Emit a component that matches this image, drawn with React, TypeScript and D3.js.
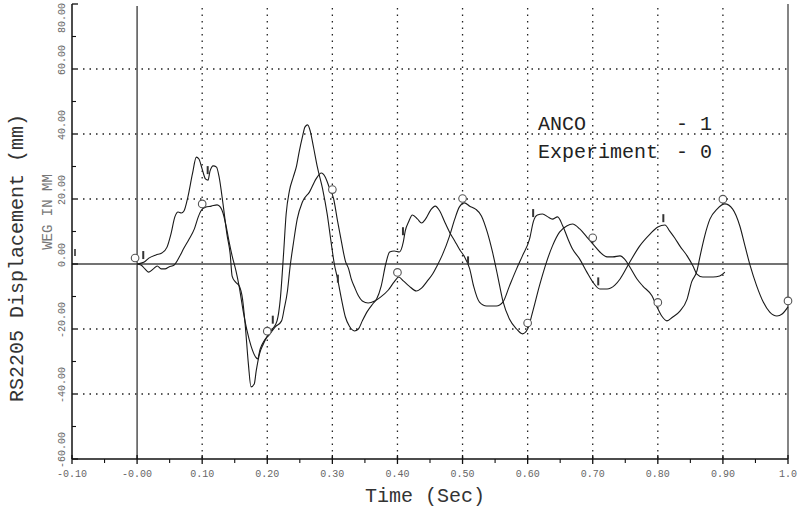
import React from 'react';
import * as d3 from 'd3';

// time (s), displacement (mm)
const ancoT = [0, 0.011, 0.018, 0.029, 0.038, 0.046, 0.052, 0.058, 0.063, 0.068, 0.072, 0.078, 0.085, 0.091, 0.095, 0.1, 0.105, 0.109, 0.112, 0.117, 0.122, 0.126, 0.132, 0.138, 0.143, 0.146, 0.151, 0.157, 0.162, 0.166, 0.171, 0.175, 0.18, 0.183, 0.188, 0.194, 0.2, 0.208, 0.215, 0.22, 0.225, 0.229, 0.234, 0.24, 0.245, 0.249, 0.254, 0.258, 0.262, 0.266, 0.271, 0.277, 0.285, 0.292, 0.298, 0.303, 0.308, 0.314, 0.32, 0.326, 0.334, 0.34, 0.346, 0.354, 0.362, 0.368, 0.375, 0.382, 0.388, 0.395, 0.403, 0.409, 0.412, 0.417, 0.423, 0.431, 0.437, 0.443, 0.451, 0.458, 0.465, 0.472, 0.48, 0.488, 0.495, 0.503, 0.511, 0.517, 0.526, 0.537, 0.552, 0.562, 0.572, 0.583, 0.592, 0.603, 0.609, 0.615, 0.623, 0.631, 0.638, 0.646, 0.654, 0.662, 0.669, 0.68, 0.691, 0.7, 0.711, 0.722, 0.734, 0.742, 0.757, 0.772, 0.788, 0.8, 0.811, 0.818, 0.826, 0.834, 0.845, 0.854, 0.86, 0.869, 0.885, 0.895, 0.903];
const ancoV = [0, 0.6, 1.8, 2.8, 3.4, 5.2, 9.2, 14.5, 16.0, 15.7, 16.3, 20.6, 27.7, 32.9, 32.3, 29.2, 26.2, 25.8, 28.6, 30.2, 29.8, 26.8, 18.5, 9.2, 3.1, -3.7, -5.5, -6.8, -10.8, -18.5, -30.8, -37.8, -36.9, -32.9, -27.7, -24.6, -22.2, -20.0, -17.5, -10.8, 3.1, 15.4, 22.5, 26.8, 30.2, 34.5, 39.1, 42.2, 42.8, 40.9, 36.0, 29.8, 23.1, 15.4, 6.8, 0.0, -4.6, -10.8, -16.3, -19.1, -20.6, -20.0, -17.5, -14.5, -12.3, -10.8, -6.8, 0.0, 3.7, 4.0, 3.7, 6.8, 10.2, 12.9, 15.1, 13.8, 12.6, 13.8, 16.6, 17.8, 16.3, 13.2, 9.8, 7.1, 4.6, 2.2, -1.5, -6.8, -11.7, -12.9, -12.9, -11.7, -6.8, -1.5, 2.5, 7.7, 13.2, 15.1, 15.4, 14.5, 13.8, 14.5, 11.7, 7.7, 4.6, 1.5, -2.5, -5.5, -7.7, -7.7, -6.5, -4.6, 0.6, 5.5, 9.2, 11.4, 12.0, 10.2, 8.0, 5.5, 2.5, -0.6, -3.1, -4.0, -4.0, -3.7, -2.5];

const expT = [0, 0.006, 0.012, 0.018, 0.025, 0.031, 0.037, 0.043, 0.049, 0.057, 0.065, 0.072, 0.08, 0.088, 0.094, 0.098, 0.105, 0.114, 0.123, 0.128, 0.132, 0.137, 0.142, 0.146, 0.152, 0.157, 0.163, 0.169, 0.175, 0.182, 0.185, 0.189, 0.195, 0.203, 0.212, 0.222, 0.226, 0.231, 0.235, 0.24, 0.246, 0.254, 0.265, 0.275, 0.283, 0.289, 0.295, 0.302, 0.308, 0.314, 0.32, 0.325, 0.329, 0.334, 0.34, 0.346, 0.355, 0.365, 0.374, 0.386, 0.395, 0.402, 0.409, 0.418, 0.429, 0.437, 0.446, 0.454, 0.46, 0.469, 0.48, 0.488, 0.495, 0.503, 0.511, 0.52, 0.529, 0.538, 0.546, 0.554, 0.562, 0.572, 0.583, 0.592, 0.6, 0.608, 0.618, 0.629, 0.638, 0.649, 0.66, 0.669, 0.68, 0.691, 0.7, 0.711, 0.722, 0.731, 0.742, 0.749, 0.757, 0.768, 0.777, 0.791, 0.798, 0.806, 0.814, 0.823, 0.834, 0.845, 0.852, 0.86, 0.865, 0.872, 0.88, 0.891, 0.903, 0.915, 0.926, 0.934, 0.942, 0.952, 0.962, 0.972, 0.983, 0.991, 1.0];
const expV = [0, -0.3, -1.5, -2.5, -1.5, -0.6, -1.5, -1.5, -0.9, -0.3, 2.2, 4.9, 7.7, 10.8, 14.5, 16.3, 17.5, 17.8, 18.2, 17.5, 15.7, 11.4, 6.2, 2.5, -2.2, -7.1, -14.5, -20.6, -25.2, -28.6, -29.2, -26.2, -23.7, -21.8, -19.4, -17.5, -13.8, -8.3, -0.9, 6.2, 13.8, 19.1, 22.2, 26.2, 28.0, 26.8, 23.7, 20.0, 13.2, 6.8, 0.9, -1.5, -4.6, -7.1, -9.8, -11.4, -12.0, -11.4, -10.2, -8.0, -5.5, -4.0, -5.2, -6.8, -8.3, -7.4, -5.2, -3.1, -0.9, 2.8, 8.6, 13.8, 17.5, 18.8, 17.8, 16.9, 14.8, 9.8, 3.7, -3.7, -11.4, -16.9, -20.0, -21.5, -20.0, -14.5, -6.8, 0.6, 5.5, 9.8, 11.7, 12.3, 10.8, 8.3, 6.2, 3.7, 2.2, 2.2, 2.5, 1.5, -0.9, -4.6, -6.8, -9.8, -12.9, -16.0, -17.5, -16.3, -14.5, -10.8, -5.5, -2.2, 2.5, 8.6, 13.8, 16.9, 18.5, 16.9, 11.7, 5.5, -0.6, -6.8, -11.7, -14.8, -16.0, -15.4, -13.2];

const ancoMarkT = [0.011, 0.11, 0.21, 0.31, 0.41, 0.51, 0.61, 0.71, 0.81];
const expMarkT = [0, 0.1, 0.2, 0.3, 0.4, 0.5, 0.6, 0.7, 0.8, 0.9, 1.0];

const xMajor = [-0.1, 0, 0.1, 0.2, 0.3, 0.4, 0.5, 0.6, 0.7, 0.8, 0.9, 1.0];
const xLabels = ['-0.10', '-0.00', '0.10', '0.20', '0.30', '0.40', '0.50', '0.60', '0.70', '0.80', '0.90', '1.0'];
const yMajor = [-60, -40, -20, 0, 20, 40, 60, 80];
const yLabels = ['-60.00', '-40.00', '-20.00', '0.00', '20.00', '40.00', '60.00', '80.00'];

const W = 801, H = 518;
const mono = '"Liberation Mono", "DejaVu Sans Mono", monospace';

const x = d3.scaleLinear().domain([-0.1, 1.0]).range([72, 788]);
const y = d3.scaleLinear().domain([-60, 80]).range([459, 4]);

const valueAt = (ts: number[], vs: number[], t: number) => {
  const i = Math.max(1, Math.min(ts.length - 1, d3.bisectLeft(ts, t)));
  const t0 = ts[i - 1], t1 = ts[i];
  const k = t1 === t0 ? 0 : (t - t0) / (t1 - t0);
  return vs[i - 1] + (vs[i] - vs[i - 1]) * Math.max(0, Math.min(1, k));
};

export default function App() {
  const line = d3.line<[number, number]>()
    .x(d => x(d[0]))
    .y(d => y(d[1]))
    .curve(d3.curveMonotoneX);

  const anco = ancoT.map((t, i) => [t, ancoV[i]] as [number, number]);
  const exp = expT.map((t, i) => [t, expV[i]] as [number, number]);

  const xMinor = d3.range(-0.05, 1.0, 0.1);
  const yMinor = d3.range(-50, 80, 20);

  return (
    <svg width={W} height={H} style={{ position: 'absolute', left: 0, top: 0, background: '#fff' }}>
      <rect width={W} height={H} fill="#fff" />

      {/* dotted grid */}
      {yMajor.filter(v => v !== 0 && v !== -60 && v !== 80).map(v => (
        <line key={'gy' + v} x1={83} x2={788} y1={y(v)} y2={y(v)}
          stroke="#222" strokeWidth={1.3} strokeDasharray="1.5,5" />
      ))}
      {xMajor.filter(t => t > 0.05 && t < 0.95).map(t => (
        <line key={'gx' + t} x1={x(t)} x2={x(t)} y1={8} y2={459}
          stroke="#222" strokeWidth={1.3} strokeDasharray="1.5,5" />
      ))}

      {/* solid zero lines */}
      <line x1={72} x2={788} y1={y(0)} y2={y(0)} stroke="#444" strokeWidth={1.6} />
      <line x1={x(0)} x2={x(0)} y1={6} y2={459} stroke="#444" strokeWidth={1.4} />

      {/* axes frame */}
      <line x1={72} x2={72} y1={4} y2={459} stroke="#111" strokeWidth={1.5} />
      <line x1={72} x2={788} y1={459} y2={459} stroke="#111" strokeWidth={1.5} />
      <line x1={788} x2={788} y1={4} y2={459} stroke="#333" strokeWidth={1.2} />

      {/* y ticks */}
      {yMajor.map(v => (
        <line key={'ty' + v} x1={72} x2={78} y1={y(v)} y2={y(v)} stroke="#111" strokeWidth={1.3} />
      ))}
      {yMinor.map(v => (
        <line key={'tym' + v} x1={72} x2={76} y1={y(v)} y2={y(v)} stroke="#111" strokeWidth={1.1} />
      ))}
      {/* x ticks */}
      {xMajor.map(t => (
        <line key={'tx' + t} x1={x(t)} x2={x(t)} y1={455} y2={464} stroke="#111" strokeWidth={1.3} />
      ))}
      {xMinor.map(t => (
        <line key={'txm' + t} x1={x(t)} x2={x(t)} y1={459} y2={463} stroke="#111" strokeWidth={1.1} />
      ))}

      {/* tick labels */}
      {xMajor.map((t, i) => (
        <text key={'lx' + t} x={x(t)} y={477} textAnchor="middle" fontFamily={mono}
          fontSize={10} fill="#666">{xLabels[i]}</text>
      ))}
      {yMajor.map((v, i) => {
        const cy = Math.max(18, y(v) - 9);
        return (
          <text key={'ly' + v} x={62} y={cy} transform={`rotate(-90, 62, ${cy})`}
            textAnchor="middle" dominantBaseline="middle" fontFamily={mono}
            fontSize={10} fill="#666">{yLabels[i]}</text>
        );
      })}

      {/* curves */}
      <path d={line(anco) ?? ''} fill="none" stroke="#1a1a1a" strokeWidth={1.1} />
      <path d={line(exp) ?? ''} fill="none" stroke="#1a1a1a" strokeWidth={1.1} />

      {/* markers */}
      {expMarkT.map(t => (
        <circle key={'me' + t} cx={x(t) - (t === 0 ? 2 : 0)} cy={y(valueAt(expT, expV, t)) - 6} r={3.8}
          fill="#fff" stroke="#555" strokeWidth={1.1} />
      ))}
      {ancoMarkT.map(t => {
        const cx = x(t) - 1;
        const cy = y(valueAt(ancoT, ancoV, t)) - 7;
        return <line key={'ma' + t} x1={cx} x2={cx} y1={cy - 4} y2={cy + 4} stroke="#333" strokeWidth={2} />;
      })}
      <line x1={75} x2={75} y1={249} y2={256} stroke="#333" strokeWidth={1.6} />

      {/* legend */}
      <text x={538} y={130} fontFamily={mono} fontSize={20} fill="#222">ANCO</text>
      <text x={676} y={130} fontFamily={mono} fontSize={20} fill="#222">- 1</text>
      <text x={538} y={158} fontFamily={mono} fontSize={20} fill="#222">Experiment</text>
      <text x={676} y={158} fontFamily={mono} fontSize={20} fill="#222">- 0</text>

      {/* axis titles */}
      <text x={425} y={502} textAnchor="middle" fontFamily={mono} fontSize={20} fill="#333">Time (Sec)</text>
      <text x={18} y={258} transform="rotate(-90, 18, 258)" textAnchor="middle" dominantBaseline="middle"
        fontFamily={mono} fontSize={20} fill="#333">RS2205 Displacement (mm)</text>
      <text x={48} y={212} transform="rotate(-90, 48, 212)" textAnchor="middle" dominantBaseline="middle"
        fontFamily={mono} fontSize={14} fill="#777">WEG IN MM</text>
    </svg>
  );
}
